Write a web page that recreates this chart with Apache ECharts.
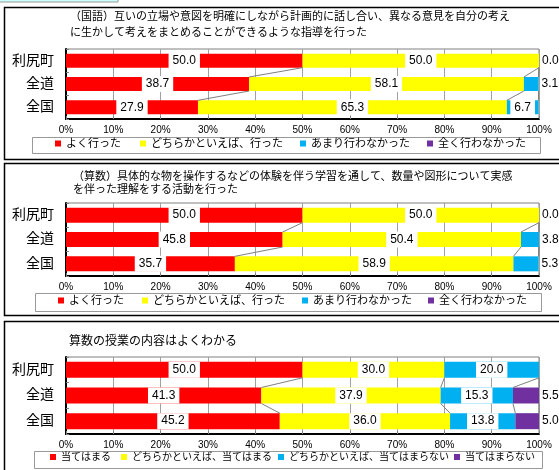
<!DOCTYPE html>
<html>
<head>
<meta charset="utf-8">
<script src="https://cdn.jsdelivr.net/npm/echarts@6/dist/echarts.min.js"></script>
<style>
  html, body { margin: 0; padding: 0; background: #fff; }
  #chart { width: 559px; height: 470px; }
</style>
</head>
<body>
<div id="chart"></div>
<script>
// カテゴリ
var categories = ['利尻町', '全道', '全国'];
var xTicks = ['0%', '10%', '20%', '30%', '40%', '50%', '60%', '70%', '80%', '90%', '100%'];

// 凡例（国語・算数の指導）
var namesA = ['よく行った', 'どちらかといえば、行った', 'あまり行わなかった', '全く行わなかった'];
// 凡例（算数の授業）
var namesB = ['当てはまる', 'どちらかといえば、当てはまる', 'どちらかといえば、当てはまらない', '当てはまらない'];

// (国語)
var kokugoRed = [50.0, 38.7, 27.9];
var kokugoYellow = [50.0, 58.1, 65.3];
var kokugoBlue = [0.0, 3.1, 6.7];
var kokugoPurple = [null, null, null];

// (算数) 活動
var sansuRed = [50.0, 45.8, 35.7];
var sansuYellow = [50.0, 50.4, 58.9];
var sansuBlue = [0.0, 3.8, 5.3];
var sansuPurple = [null, null, null];

// 算数の授業の内容はよくわかる
var wakaruRed = [50.0, 41.3, 45.2];
var wakaruYellow = [30.0, 37.9, 36.0];
var wakaruBlue = [20.0, 15.3, 13.8];
var wakaruPurple = [null, 5.5, 5.0];

var COLORS = ['#ff0000', '#ffff00', '#00b0f0', '#7030a0'];
var FONT = '"Liberation Sans", "Noto Sans CJK JP", sans-serif';

var panels = [
  { names: namesA, data: [kokugoRed, kokugoYellow, kokugoBlue, kokugoPurple], top: 49, height: 70, barW: 14,
    legendY: 145, legendX: [55, 140, 300, 427], legendFont: 11 },
  { names: namesA, data: [sansuRed, sansuYellow, sansuBlue, sansuPurple], top: 203, height: 73, barW: 15,
    legendY: 302, legendX: [58, 142, 302, 428], legendFont: 11 },
  { names: namesB, data: [wakaruRed, wakaruYellow, wakaruBlue, wakaruPurple], top: 357, height: 77, barW: 16,
    legendY: 459, legendX: [50, 121, 278, 454], legendFont: 10 }
];

var grids = [], xAxes = [], yAxes = [], series = [], legends = [];

panels.forEach(function (p, gi) {
  grids.push({ left: 66, right: 20, top: p.top, height: p.height, show: true,
    borderColor: '#808080', borderWidth: 1, backgroundColor: '#fff' });
  xAxes.push({
    type: 'value', gridIndex: gi, min: 0, max: 100, interval: 10,
    axisLine: { show: true, lineStyle: { color: '#000', width: 2 } },
    axisTick: { show: true, inside: true, length: 3, lineStyle: { color: '#808080' } },
    splitLine: { show: true, lineStyle: { color: '#a0a0a0', width: 1 } },
    axisLabel: { margin: 6, fontSize: 10, color: '#000', fontFamily: FONT,
      formatter: function (v) { return xTicks[Math.round(v / 10)]; } }
  });
  yAxes.push({
    type: 'category', gridIndex: gi, data: categories, inverse: true,
    axisLine: { show: true, lineStyle: { color: '#000', width: 2 } },
    axisTick: { show: true, inside: true, length: 3, lineStyle: { color: '#808080' } },
    axisLabel: { margin: 12, fontSize: 14, color: '#000', fontFamily: FONT }
  });

  p.data.forEach(function (vals, si) {
    series.push({
      name: p.names[si], type: 'bar', stack: 'p' + gi, xAxisIndex: gi, yAxisIndex: gi,
      barWidth: p.barW, itemStyle: { color: COLORS[si] },
      data: vals.map(function (v) {
        if (v === null) return null;
        var outside = v < 6;
        return {
          value: v,
          label: {
            show: true,
            position: outside ? 'right' : 'inside',
            distance: 3,
            backgroundColor: outside ? 'transparent' : '#fff',
            padding: outside ? 0 : [2, 4]
          }
        };
      }),
      label: { color: '#000', fontSize: 12, fontFamily: FONT,
        formatter: function (d) { return d.value.toFixed(1); } },
      emphasis: { disabled: true }
    });
  });

  // 系列線（棒の境界をつなぐ線）
  var lineData = [];
  for (var k = 1; k <= p.data.length; k++) {
    for (var i = 0; i < categories.length - 1; i++) {
      var c1 = 0, c2 = 0;
      for (var s = 0; s < k; s++) { c1 += p.data[s][i] || 0; c2 += p.data[s][i + 1] || 0; }
      lineData.push([c1, c2, i]);
    }
  }
  series.push({
    type: 'custom', xAxisIndex: gi, yAxisIndex: gi, z: 3, silent: true,
    encode: { x: [0, 1], y: 2 },
    data: lineData,
    renderItem: (function (bw) {
      return function (params, api) {
        var a = api.coord([api.value(0), api.value(2)]);
        var b = api.coord([api.value(1), api.value(2) + 1]);
        return { type: 'line',
          shape: { x1: a[0], y1: a[1] + bw / 2, x2: b[0], y2: b[1] - bw / 2 },
          style: { stroke: '#808080', lineWidth: 1 } };
      };
    })(p.barW)
  });

  p.names.forEach(function (n, li) {
    legends.push({
      data: [n], left: p.legendX[li], top: p.legendY - 7, padding: 0,
      icon: 'rect', itemWidth: 6, itemHeight: 6, selectedMode: false,
      textStyle: { fontSize: p.legendFont, color: '#000', fontFamily: FONT }
    });
  });
});

var titleStyle = { fill: '#000', fontSize: 11, fontFamily: FONT, textVerticalAlign: 'middle' };
function txt(x, y, t, size) {
  return { type: 'text', x: x, y: y, z: 1,
    style: Object.assign({}, titleStyle, { text: t, fontSize: size || 11 }) };
}
function box(x, y, w, h, stroke, lw, fill) {
  return { type: 'rect', z: 0, shape: { x: x, y: y, width: w, height: h },
    style: { fill: fill || 'none', stroke: stroke, lineWidth: lw } };
}

var graphics = [
  box(-1, -10, 119, 12, '#999', 1, '#ccffff'),
  box(4.5, 7.5, 600, 152, '#000', 1.5),
  box(4.5, 163.5, 600, 152, '#000', 1.5),
  box(4.5, 321.5, 600, 200, '#000', 1.5),
  box(32.5, 137.5, 508, 16, '#999', 1, '#fff'),
  box(35.5, 293.5, 506, 18, '#999', 1, '#fff'),
  box(34.5, 451.5, 508, 17, '#999', 1, '#fff'),
  txt(70, 17, '（国語）互いの立場や意図を明確にしながら計画的に話し合い、異なる意見を自分の考え'),
  txt(70, 33, 'に生かして考えをまとめることができるような指導を行った'),
  txt(73, 177, '（算数）具体的な物を操作するなどの体験を伴う学習を通して、数量や図形について実感'),
  txt(73, 190, 'を伴った理解をする活動を行った'),
  txt(69, 342, '算数の授業の内容はよくわかる', 12)
];

var chart = echarts.init(document.getElementById('chart'), null, { renderer: 'canvas' });
chart.setOption({
  animation: false,
  backgroundColor: '#fff',
  grid: grids,
  xAxis: xAxes,
  yAxis: yAxes,
  legend: legends,
  graphic: { elements: graphics },
  series: series
});
</script>
</body>
</html>
